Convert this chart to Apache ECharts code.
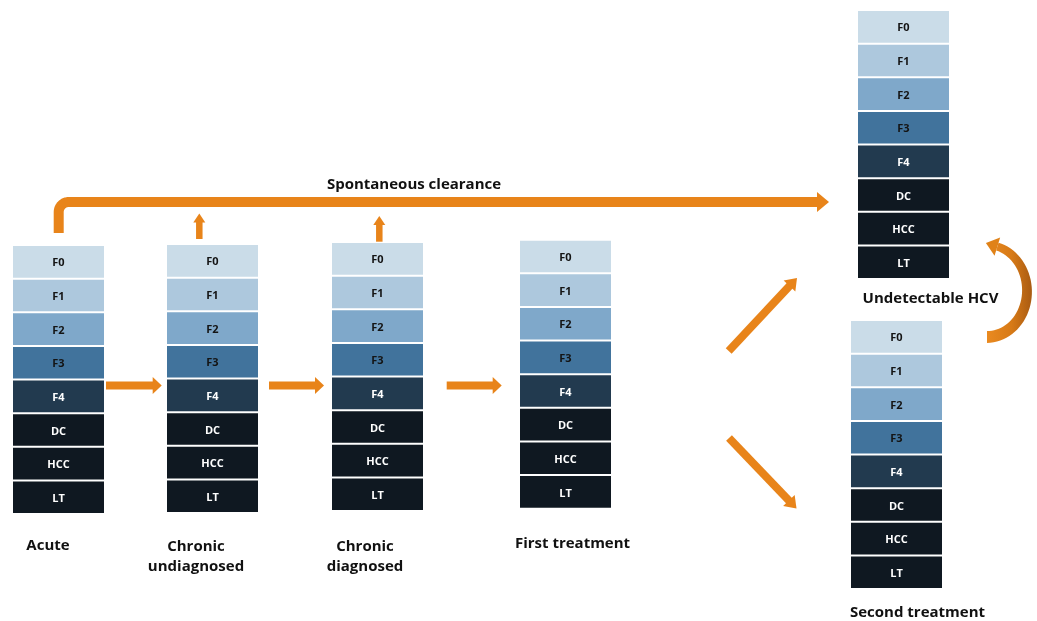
<!DOCTYPE html>
<html><head><meta charset="utf-8">
<script src="https://cdn.jsdelivr.net/npm/echarts/dist/echarts.min.js"></script>
<style>html,body{margin:0;padding:0;background:#fff}#c{width:1037px;height:621px}</style>
</head><body><div id="c"></div>
<script>
// ---- data ----
const stages = ['Acute', 'Chronic\nundiagnosed', 'Chronic\ndiagnosed', 'First treatment', 'Undetectable HCV', 'Second treatment'];
const states = ['F0', 'F1', 'F2', 'F3', 'F4', 'DC', 'HCC', 'LT'];
const flowLabel = 'Spontaneous clearance';

// ---- layout (diagram units = px) ----
const stackPos = [[13, 246], [167, 245], [332, 243], [520, 240.7], [858, 11], [851, 321]];
const labelPos = [[48, 546], [196, 556.5], [365, 556.5], [572.5, 543.5], [930.5, 298.5], [917.5, 612.5]];
const STACK_W = 91, STACK_H = 267, GAP = 2;
const PITCH = (STACK_H + GAP) / states.length;
const stateColors = ['#cadce8', '#adc8dd', '#7fa8ca', '#41739c', '#223a4f', '#0f1821', '#0f1821', '#0f1821'];
const stateText = ['#141414', '#141414', '#141414', '#141414', '#ffffff', '#ffffff', '#ffffff', '#ffffff'];
const ORANGE = '#E8841A';
const FONT = '"Open Sans", Lato, sans-serif';

// straight arrows: from, tip, shaft width, head width, head length
const straightArrows = [
  { from: [106, 385.5], to: [161.7, 385.5], w: 8, hw: 17, hl: 9 },
  { from: [269, 385.5], to: [324, 385.5], w: 8, hw: 17, hl: 9 },
  { from: [446.7, 385.5], to: [501.7, 385.5], w: 8, hw: 17, hl: 9 },
  { from: [199.3, 239], to: [199.3, 213.5], w: 6.5, hw: 12, hl: 9 },
  { from: [379.3, 241.7], to: [379.3, 216], w: 6.5, hw: 12, hl: 9 },
  { from: [728.7, 351], to: [797, 278], w: 8, hw: 16, hl: 11 },
  { from: [729, 438], to: [796.5, 508.5], w: 8, hw: 16, hl: 11 }
];

function buildArrow(api, ptsData, w, hw, hl, fill) {
  const pts = ptsData.map(p => api.coord(p));
  const n = pts.length;
  const T = pts[n - 1], P = pts[n - 2];
  let dx = T[0] - P[0], dy = T[1] - P[1];
  const L = Math.hypot(dx, dy); dx /= L; dy /= L;
  const B = [T[0] - dx * hl, T[1] - dy * hl];
  const nx = -dy, ny = dx;
  const shaft = pts.slice(0, n - 1).concat([[B[0] + dx * 1, B[1] + dy * 1]]);
  return {
    type: 'group',
    children: [
      { type: 'polyline', shape: { points: shaft }, style: { stroke: fill, lineWidth: w, lineCap: 'butt', lineJoin: 'round', fill: null } },
      { type: 'polygon', shape: { points: [[B[0] + nx * hw / 2, B[1] + ny * hw / 2], T, [B[0] - nx * hw / 2, B[1] - ny * hw / 2]] }, style: { fill: fill } }
    ]
  };
}

const cellData = [];
stages.forEach((s, i) => states.forEach((st, k) => cellData.push([i, k])));

const option = {
  animation: false,
  backgroundColor: '#ffffff',
  grid: { left: 0, right: 0, top: 0, bottom: 0, containLabel: false },
  xAxis: { type: 'value', min: 0, max: 1037, show: false },
  yAxis: { type: 'value', min: 0, max: 621, inverse: true, show: false },
  series: [
    {
      type: 'custom', name: 'cells', clip: false, silent: true,
      data: cellData,
      renderItem: function (params, api) {
        const s = api.value(0), k = api.value(1);
        const lx = stackPos[s][0], ty = stackPos[s][1];
        const y0 = ty + k * PITCH, y1 = y0 + PITCH - GAP;
        const p0 = api.coord([lx, y0]), p1 = api.coord([lx + STACK_W, y1]);
        return {
          type: 'group',
          children: [
            { type: 'rect', shape: { x: p0[0], y: p0[1], width: p1[0] - p0[0], height: p1[1] - p0[1] }, style: { fill: stateColors[k] } },
            { type: 'text', style: { text: states[k], x: (p0[0] + p1[0]) / 2, y: (p0[1] + p1[1]) / 2 + 1.5, align: 'center', verticalAlign: 'middle', fontSize: 11, fontWeight: 'bold', fontFamily: FONT, fill: stateText[k] } }
          ]
        };
      }
    },
    {
      type: 'custom', name: 'stageLabels', clip: false, silent: true,
      data: stages.map((s, i) => [i, 0]),
      renderItem: function (params, api) {
        const i = api.value(0);
        const p = api.coord(labelPos[i]);
        return { type: 'text', style: { text: stages[i], x: p[0], y: p[1], align: 'center', verticalAlign: 'middle', fontSize: 15, lineHeight: 20.5, fontWeight: 'bold', fontFamily: FONT, fill: '#111111' } };
      }
    },
    {
      type: 'custom', name: 'arrows', clip: false, silent: true,
      data: straightArrows.map((a, i) => [i, 0]),
      renderItem: function (params, api) {
        const a = straightArrows[api.value(0)];
        return buildArrow(api, [a.from, a.to], a.w, a.hw, a.hl, ORANGE);
      }
    },
    {
      type: 'custom', name: 'clearance', clip: false, silent: true,
      data: [[0, 0]],
      renderItem: function (params, api) {
        const x0 = 58.7, yb = 233, yh = 202, r = 10;
        const path = [[x0, yb], [x0, yh + r]];
        for (let t = 1; t <= 12; t++) {
          const a = Math.PI + (Math.PI / 2) * t / 12;
          path.push([x0 + r + r * Math.cos(a), yh + r + r * Math.sin(a)]);
        }
        path.push([829, yh]);
        const g = buildArrow(api, path, 10, 20, 12, ORANGE);
        const lp = api.coord([414, 184.5]);
        g.children.push({ type: 'text', style: { text: flowLabel, x: lp[0], y: lp[1], align: 'center', verticalAlign: 'middle', fontSize: 15, fontWeight: 'bold', fontFamily: FONT, fill: '#111111' } });
        return g;
      }
    },
    {
      type: 'custom', name: 'retreat', clip: false, silent: true,
      data: [[0, 0]],
      renderItem: function (params, api) {
        const cx = 987, cy = 291, rx = 40, ry = 46;
        const a0 = Math.PI / 2, a1 = -75 * Math.PI / 180, N = 40;
        const left = [], right = [];
        let last, dir;
        for (let i = 0; i <= N; i++) {
          const t = i / N, a = a0 + (a1 - a0) * t;
          const c = api.coord([cx + rx * Math.cos(a), cy + ry * Math.sin(a)]);
          let tx = rx * Math.sin(a), ty = -ry * Math.cos(a);
          const tl = Math.hypot(tx, ty); tx /= tl; ty /= tl;
          const w = 12 - 4 * t;
          const nx = -ty, ny = tx;
          left.push([c[0] + nx * w / 2, c[1] + ny * w / 2]);
          right.push([c[0] - nx * w / 2, c[1] - ny * w / 2]);
          last = c; dir = [tx, ty];
        }
        const hl = 12, hw = 19;
        const T = [last[0] + dir[0] * hl, last[1] + dir[1] * hl];
        const nx = -dir[1], ny = dir[0];
        const grad = new echarts.graphic.LinearGradient(0, 0, 1, 0, [
          { offset: 0, color: '#ea8a20' }, { offset: 0.55, color: '#d77a17' }, { offset: 1, color: '#a95b12' }
        ]);
        return {
          type: 'group',
          children: [
            { type: 'polygon', shape: { points: left.concat(right.reverse()) }, style: { fill: grad } },
            { type: 'polygon', shape: { points: [[last[0] + nx * hw / 2, last[1] + ny * hw / 2], T, [last[0] - nx * hw / 2, last[1] - ny * hw / 2]] }, style: { fill: '#e08218' } }
          ]
        };
      }
    }
  ]
};

const chart = echarts.init(document.getElementById('c'), null, { renderer: 'canvas' });
chart.setOption(option);
</script>
</body></html>
